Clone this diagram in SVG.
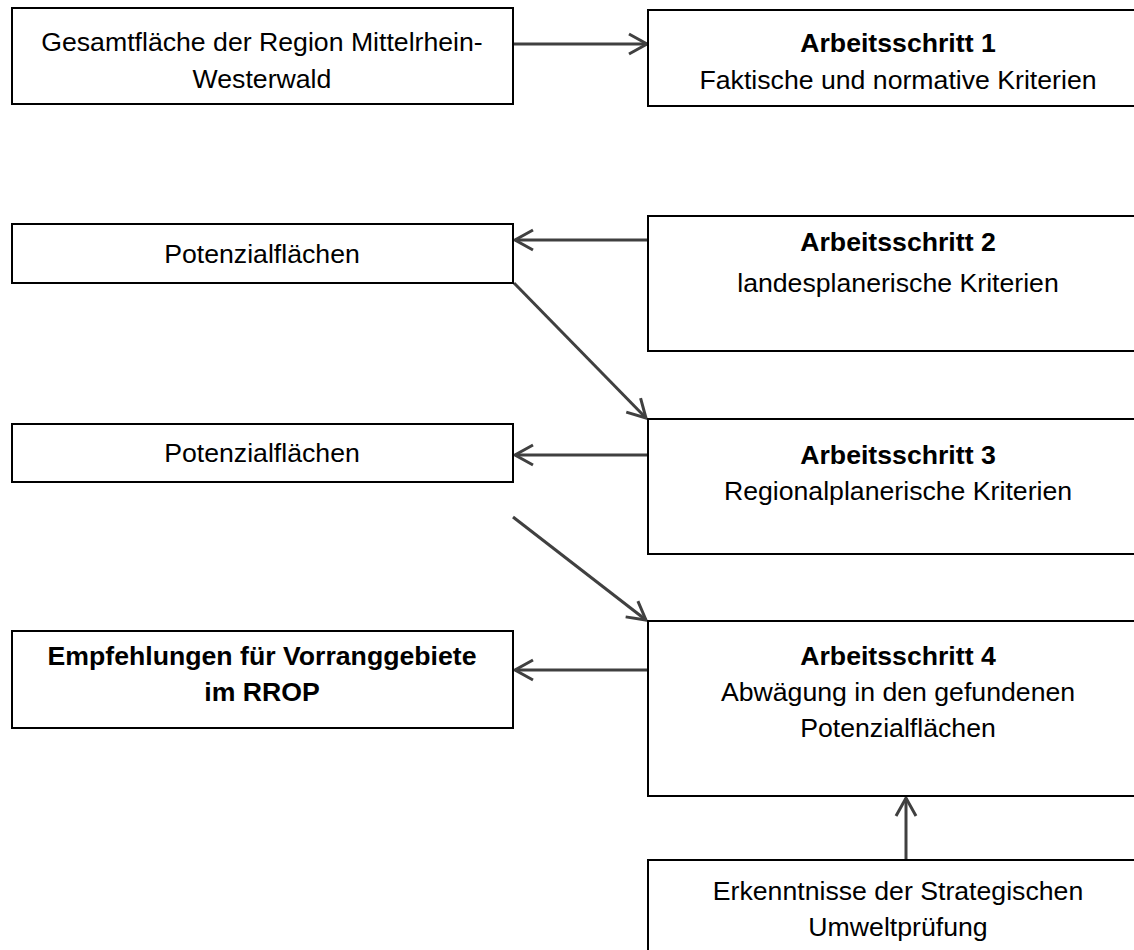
<svg xmlns="http://www.w3.org/2000/svg" width="1134" height="950" viewBox="0 0 1134 950">
<style>
.box{fill:#fff;stroke:#000;stroke-width:2}
.t{font-family:"Liberation Sans",Arial,sans-serif;font-size:26.67px;fill:#000;text-anchor:middle}
.b{font-weight:bold}
.c{fill:none;stroke:#404040;stroke-width:3;marker-end:url(#arr)}
</style>
<defs>
<marker id="arr" markerUnits="userSpaceOnUse" viewBox="-22 -13 26 26" refX="0" refY="0" markerWidth="26" markerHeight="26" orient="auto">
<path d="M-18,-10 L0,0 L-18,10" fill="none" stroke="#404040" stroke-width="3"/>
</marker>
</defs>
<rect width="1134" height="950" fill="#fff"/>
<g id="connectors">
<line class="c" x1="513" y1="44" x2="647" y2="44"/>
<line class="c" x1="648" y1="240" x2="515" y2="240"/>
<line class="c" x1="514" y1="283" x2="646" y2="418"/>
<line class="c" x1="648" y1="455" x2="515" y2="455"/>
<line class="c" x1="513" y1="517" x2="646" y2="620"/>
<line class="c" x1="648" y1="670" x2="515" y2="670"/>
<line class="c" x1="906" y1="860" x2="906" y2="798"/>
</g>
<g id="n1">
<rect class="box" x="12" y="8" width="501" height="96"/>
<text class="t" x="262" y="51">Gesamtfläche der Region Mittelrhein-</text>
<text class="t" x="262" y="88">Westerwald</text>
</g>
<g id="as1">
<rect class="box" x="648" y="10" width="501" height="96"/>
<text class="t b" x="898" y="52">Arbeitsschritt 1</text>
<text class="t" x="898" y="89">Faktische und normative Kriterien</text>
</g>
<g id="pot1">
<rect class="box" x="12" y="224" width="501" height="59"/>
<text class="t" x="262" y="263">Potenzialflächen</text>
</g>
<g id="as2">
<rect class="box" x="648" y="216" width="501" height="135"/>
<text class="t b" x="898" y="251">Arbeitsschritt 2</text>
<text class="t" x="898" y="292">landesplanerische Kriterien</text>
</g>
<g id="pot2">
<rect class="box" x="12" y="424" width="501" height="58"/>
<text class="t" x="262" y="462">Potenzialflächen</text>
</g>
<g id="as3">
<rect class="box" x="648" y="419" width="501" height="135"/>
<text class="t b" x="898" y="464">Arbeitsschritt 3</text>
<text class="t" x="898" y="500">Regionalplanerische Kriterien</text>
</g>
<g id="empf">
<rect class="box" x="12" y="631" width="501" height="97"/>
<text class="t b" x="262" y="665">Empfehlungen für Vorranggebiete</text>
<text class="t b" x="262" y="701">im RROP</text>
</g>
<g id="as4">
<rect class="box" x="648" y="621" width="501" height="175"/>
<text class="t b" x="898" y="665">Arbeitsschritt 4</text>
<text class="t" x="898" y="701">Abwägung in den gefundenen</text>
<text class="t" x="898" y="737">Potenzialflächen</text>
</g>
<g id="sup">
<rect class="box" x="648" y="860" width="501" height="110"/>
<text class="t" x="898" y="900">Erkenntnisse der Strategischen</text>
<text class="t" x="898" y="936">Umweltprüfung</text>
</g>
</svg>
